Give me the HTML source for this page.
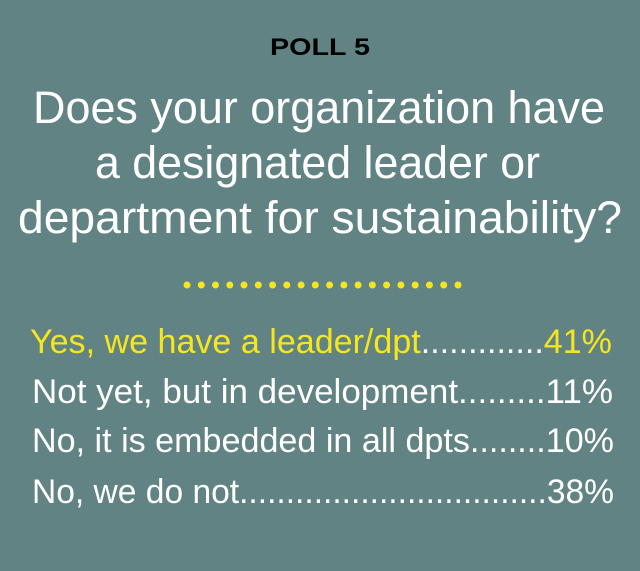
<!DOCTYPE html>
<html><head><style>
html,body{margin:0;padding:0;background:#618383;}
svg{display:block}
text{font-family:"Liberation Sans",sans-serif;}
</style></head><body>
<svg width="640" height="571" viewBox="0 0 640 571">
<rect width="640" height="571" fill="#618383"/>
<text x="320" y="55" text-anchor="middle" font-size="24" font-weight="bold" fill="#000" textLength="100" lengthAdjust="spacingAndGlyphs">POLL 5</text>
<g fill="#fff" font-size="45">
<text x="33" y="123" textLength="572" lengthAdjust="spacingAndGlyphs">Does your organization have</text>
<text x="95" y="178" textLength="445" lengthAdjust="spacingAndGlyphs">a designated leader or</text>
<text x="18" y="233" textLength="604" lengthAdjust="spacingAndGlyphs">department for sustainability?</text>
</g>
<g fill="#f5e61e">
<circle cx="187" cy="285" r="3.5"/><circle cx="201.3" cy="285" r="3.5"/><circle cx="215.5" cy="285" r="3.5"/><circle cx="229.8" cy="285" r="3.5"/><circle cx="244" cy="285" r="3.5"/><circle cx="258.3" cy="285" r="3.5"/><circle cx="272.6" cy="285" r="3.5"/><circle cx="286.8" cy="285" r="3.5"/><circle cx="301.1" cy="285" r="3.5"/><circle cx="315.3" cy="285" r="3.5"/><circle cx="329.6" cy="285" r="3.5"/><circle cx="343.9" cy="285" r="3.5"/><circle cx="358.1" cy="285" r="3.5"/><circle cx="372.4" cy="285" r="3.5"/><circle cx="386.6" cy="285" r="3.5"/><circle cx="400.9" cy="285" r="3.5"/><circle cx="415.2" cy="285" r="3.5"/><circle cx="429.4" cy="285" r="3.5"/><circle cx="443.7" cy="285" r="3.5"/><circle cx="458" cy="285" r="3.5"/>
</g>
<g font-size="34" fill="#fff">
<text x="30" y="353" textLength="582" lengthAdjust="spacingAndGlyphs"><tspan fill="#f5e61e">Yes, we have a leader/dpt</tspan>.............<tspan fill="#f5e61e">41%</tspan></text>
<text x="32" y="403" textLength="581" lengthAdjust="spacingAndGlyphs">Not yet, but in development.........11%</text>
<text x="32" y="452" textLength="582" lengthAdjust="spacingAndGlyphs">No, it is embedded in all dpts........10%</text>
<text x="32" y="503" textLength="582" lengthAdjust="spacingAndGlyphs">No, we do not.................................38%</text>
</g>
</svg>
</body></html>
